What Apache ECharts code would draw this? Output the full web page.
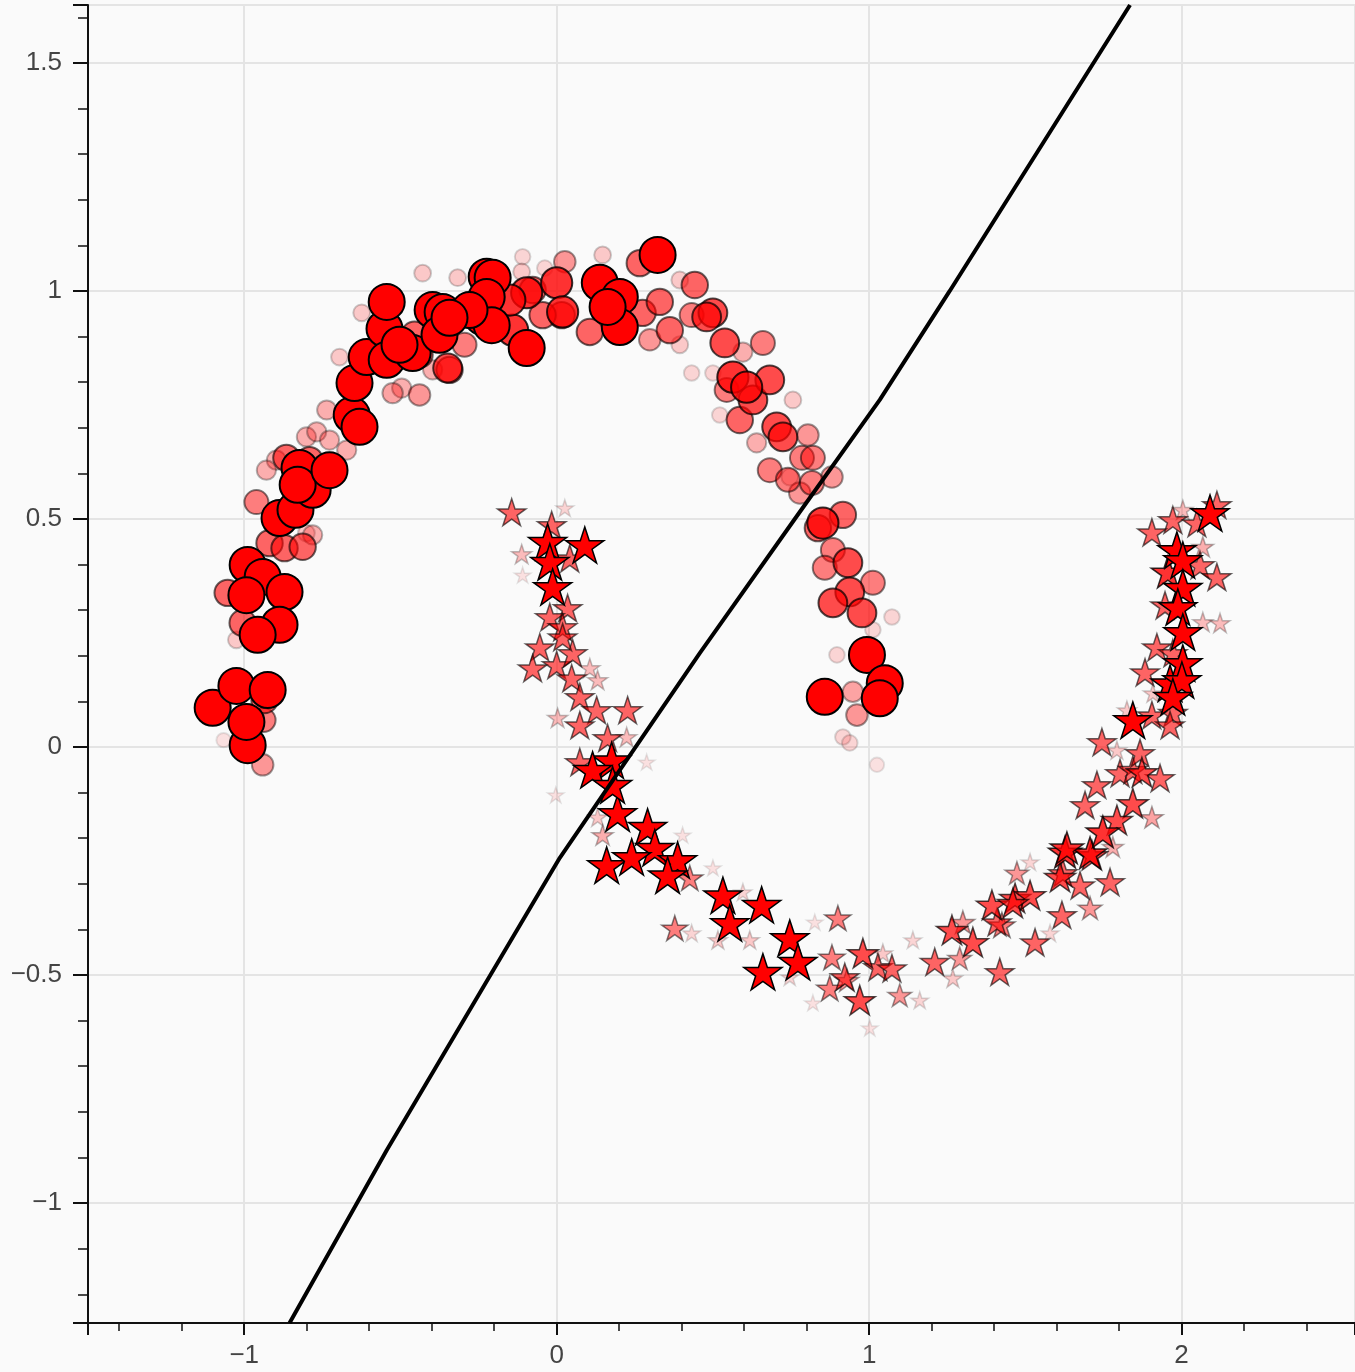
<!DOCTYPE html>
<html>
<head>
<meta charset="utf-8">
<script src="https://cdn.jsdelivr.net/npm/echarts@6/dist/echarts.min.js"></script>
<style>
html,body{margin:0;padding:0;background:#fafafa;}
#chart{width:1355px;height:1372px;}
</style>
</head>
<body>
<div id="chart"></div>
<script>
// ---- data (class 0: circles, upper moon) ----
const circleX = [-1.101,-1.025,-0.925,-0.935,-0.989,-0.993,-0.941,-1.066,-0.938,
 -0.989,-0.941,-0.871,-0.993,-0.887,-0.957,-1.005,-1.053,-1.025,-0.919,-0.871,-0.813,-0.781,
 -0.887,-0.836,-0.961,-0.823,-0.781,-0.829,-0.865,-0.727,-0.791,-0.897,-0.929,
 -0.801,-0.768,-0.727,-0.672,-0.736,-0.656,-0.631,-0.647,-0.608,-0.551,-0.544,-0.544,-0.461,
 -0.397,-0.365,-0.375,-0.349,-0.224,-0.237,-0.429,-0.624,-0.695,-0.525,-0.439,-0.397,-0.496,
 -0.317,-0.295,-0.801,-0.205,-0.224,-0.096,-0.208,-0.141,-0.096,0.000,0.019,0.138,0.202,0.202,
 0.163,0.323,0.275,0.500,0.480,0.538,0.564,0.608,0.628,0.682,0.704,0.724,0.266,0.442,0.330,
 0.362,0.106,0.016,-0.045,-0.077,0.026,0.544,0.586,0.660,0.432,0.682,0.298,-0.109,-0.112,
 0.147,0.394,0.394,0.432,0.500,0.522,0.640,0.596,0.756,0.746,-0.279,-0.343,-0.455,-0.439,
 -0.343,-0.503,-0.150,-0.038,0.804,0.785,0.820,0.740,0.817,0.881,0.778,0.852,0.836,0.916,
 0.884,0.932,0.858,1.012,0.938,0.884,0.977,1.073,0.993,1.050,1.034,0.858,0.948,0.961,0.897,
 1.012,0.916,1.025,0.938];
const circleY = [0.086,0.134,0.125,0.103,0.004,0.055,-0.039,0.015,0.059,
 0.399,0.373,0.340,0.333,0.268,0.246,0.272,0.338,0.235,0.447,0.436,0.439,0.465,
 0.502,0.520,0.537,0.612,0.564,0.575,0.634,0.607,0.629,0.629,0.607,
 0.680,0.691,0.673,0.651,0.739,0.728,0.702,0.798,0.855,0.917,0.976,0.849,0.864,
 0.958,0.954,0.904,0.831,1.031,0.943,1.039,0.952,0.855,0.776,0.772,0.827,0.787,
 1.029,0.882,0.469,1.029,0.987,0.875,0.925,0.914,0.996,1.018,0.954,1.018,0.987,0.921,
 0.965,1.079,0.952,0.952,0.943,0.886,0.811,0.789,0.761,0.805,0.702,0.680,1.061,1.013,0.976,
 0.914,0.910,0.947,0.947,1.002,1.064,0.783,0.717,0.886,0.947,0.607,0.893,1.075,1.042,
 1.079,1.024,0.882,0.820,0.820,0.728,0.667,0.866,0.761,0.592,0.958,0.941,0.904,0.860,
 0.827,0.882,0.980,1.050,0.684,0.634,0.634,0.586,0.579,0.592,0.557,0.491,0.480,0.509,
 0.432,0.404,0.393,0.360,0.340,0.316,0.294,0.285,0.202,0.140,0.107,0.110,0.121,0.070,0.202,
 0.257,0.022,-0.039,0.009];
const circleW = [1,1,1,0.6,1,1,0.4,0.1,0.5,
 1,1,1,1,1,1,0.6,0.6,0.2,0.6,0.6,0.6,0.3,
 1,1,0.5,1,1,1,0.6,1,0.6,0.3,0.3,
 0.3,0.3,0.3,0.3,0.3,1,1,1,1,1,1,1,1,
 1,1,1,0.7,1,1,0.2,0.2,0.2,0.35,0.4,0.3,0.3,
 0.2,0.5,0.2,1,1,1,1,0.8,0.8,0.8,0.8,1,1,1,
 1,1,0.6,0.7,0.7,0.7,0.8,0.8,0.7,0.7,0.7,0.7,0.6,0.6,0.6,
 0.6,0.6,0.6,0.6,0.6,0.4,0.5,0.6,0.5,0.5,0.5,0.4,0.15,0.2,
 0.2,0.2,0.2,0.15,0.15,0.15,0.3,0.3,0.2,0.2,1,1,0.6,0.6,
 0.6,1,0.8,0.15,0.4,0.5,0.5,0.5,0.5,0.4,0.4,0.8,0.6,0.6,
 0.5,0.7,0.5,0.5,0.7,0.7,0.7,0.15,1,1,1,1,0.35,0.4,0.15,
 0.15,0.15,0.1,0.15];

// ---- data (class 1: stars, lower moon) ----
const starX = [-0.144,-0.016,-0.029,0.090,-0.022,-0.112,0.042,-0.013,0.035,-0.022,0.019,-0.054,
 -0.077,0.000,0.051,0.019,0.048,0.106,0.131,0.074,0.128,0.227,0.074,0.003,0.163,0.224,0.176,
 0.115,0.074,-0.109,0.026,0.288,0.195,0.291,0.314,0.160,0.240,0.387,0.355,0.532,0.656,0.554,
 0.746,0.772,0.660,0.179,0.378,0.900,0.980,0.970,0.881,0.874,0.922,0.131,0.147,0.426,0.403,
 0.500,0.596,0.432,0.516,0.618,0.746,0.826,0.820,1.002,1.028,1.073,0.929,1.098,1.210,1.265,
 1.332,1.300,1.393,1.425,1.467,1.515,1.418,1.531,1.473,1.617,1.675,1.707,1.771,1.611,1.627,
 1.707,1.290,1.140,1.162,1.268,1.044,1.515,1.579,1.931,1.873,1.729,1.691,1.844,1.793,1.748,
 1.633,1.713,1.620,1.460,1.409,1.905,1.780,1.803,1.844,2.091,2.113,1.972,2.004,1.905,2.049,
 1.985,2.068,2.004,1.956,2.059,2.113,2.004,1.947,1.988,2.068,2.123,2.004,1.921,1.972,2.004,
 1.883,1.963,2.001,1.908,1.972,1.972,1.844,1.905,1.825,1.963,1.745,1.793,1.867,-0.003];
const starY = [0.515,0.487,0.450,0.443,0.406,0.423,0.414,0.351,0.305,0.285,0.263,0.219,
 0.173,0.180,0.206,0.241,0.151,0.173,0.147,0.110,0.081,0.081,0.048,0.064,0.020,0.022,-0.029,
 -0.050,-0.033,0.377,0.524,-0.033,-0.145,-0.175,-0.221,-0.259,-0.241,-0.248,-0.281,-0.325,-0.346,-0.386,
 -0.419,-0.471,-0.493,-0.083,-0.397,-0.375,-0.452,-0.555,-0.461,-0.529,-0.504,-0.154,-0.193,-0.287,-0.193,
 -0.265,-0.318,-0.408,-0.423,-0.423,-0.504,-0.384,-0.561,-0.616,-0.482,-0.485,-0.511,-0.544,-0.471,-0.401,
 -0.428,-0.384,-0.346,-0.390,-0.331,-0.325,-0.493,-0.428,-0.276,-0.368,-0.303,-0.353,-0.296,-0.285,-0.230,
 -0.232,-0.463,-0.423,-0.555,-0.507,-0.452,-0.252,-0.408,-0.068,-0.055,-0.083,-0.127,-0.123,-0.160,-0.186,
 -0.221,-0.237,-0.276,-0.342,-0.384,-0.154,-0.219,-0.057,-0.050,0.513,0.531,0.498,0.520,0.471,0.491,
 0.432,0.439,0.410,0.384,0.399,0.373,0.349,0.311,0.307,0.274,0.272,0.252,0.219,0.206,0.184,
 0.164,0.140,0.147,0.118,0.110,0.075,0.059,0.070,0.081,0.048,0.011,-0.007,-0.013,-0.105];
const starW = [0.6,0.6,1,1,1,0.25,0.6,1,0.6,0.6,0.6,0.6,
 0.6,0.6,0.6,0.6,0.6,0.25,0.25,0.6,0.6,0.6,0.6,0.25,0.6,0.25,1,
 1,0.6,0.1,0.15,0.1,1,1,1,1,1,1,1,1,1,1,
 1,1,1,1,0.5,0.5,0.7,0.7,0.5,0.5,0.6,0.2,0.3,0.5,0.1,
 0.1,0.15,0.15,0.2,0.2,0.15,0.1,0.1,0.1,0.6,0.6,0.4,0.4,0.6,0.7,
 0.7,0.4,0.7,0.5,0.7,0.7,0.6,0.6,0.4,0.6,0.6,0.4,0.6,0.7,0.8,
 0.8,0.4,0.15,0.15,0.2,0.2,0.15,0.15,0.6,0.7,0.6,0.6,0.7,0.7,0.8,
 0.8,0.7,0.6,0.7,0.6,0.35,0.3,0.6,0.6,1,0.6,0.6,0.25,0.6,0.6,
 1,0.3,1,0.8,0.6,0.6,1,0.6,1,0.25,0.25,1,0.6,0.6,1,
 0.6,1,1,0.2,1,0.6,1,0.6,0.2,0.6,0.6,0.2,0.6,0.1];

// ---- decision boundary ----
const boundaryX = [-0.855,-0.544,0.010,0.458,0.762,1.034,1.258,1.835];
const boundaryY = [-1.263,-0.884,-0.243,0.206,0.500,0.761,1.000,1.627];

// ---- axis ranges ----
const xRange = [-1.5, 2.555];
const yRange = [-1.263, 1.627];

function starPath() {
  let p = '';
  for (let i = 0; i < 10; i++) {
    const r = i % 2 === 0 ? 50 : 19.1;
    const a = -Math.PI / 2 + i * Math.PI / 5;
    p += (i ? 'L' : 'M') + (50 + r * Math.cos(a)).toFixed(2) + ' ' + (50 + r * Math.sin(a)).toFixed(2) + ' ';
  }
  return 'path://' + p + 'Z';
}

function buildPoints(xs, ys, ws) {
  const pts = xs.map((x, i) => ({ value: [x, ys[i], ws[i]], itemStyle: { opacity: Math.max(0.08, ws[i]) } }));
  pts.sort((a, b) => a.value[2] - b.value[2]);
  return pts;
}

const fmt = v => {
  const s = String(Math.round(v * 1000) / 1000);
  return v < 0 ? '\u2212' + s.slice(1) : s;
};

const labelStyle = { fontSize: 26, color: '#444', fontFamily: 'Liberation Sans, Arial, sans-serif' };

const chart = echarts.init(document.getElementById('chart'), null, { renderer: 'canvas' });
chart.setOption({
  animation: false,
  backgroundColor: '#fafafa',
  grid: { left: 88, right: 0, top: 5, bottom: 49, containLabel: false },
  xAxis: {
    type: 'value', min: xRange[0], max: xRange[1],
    axisLine: { show: true, onZero: false, lineStyle: { color: '#111', width: 2 } },
    axisTick: { show: true, length: 12, lineStyle: { color: '#111', width: 2 } },
    minorTick: { show: true, splitNumber: 5, length: 8, lineStyle: { color: '#111', width: 1.5 } },
    splitLine: { show: true, lineStyle: { color: '#e4e4e4', width: 2 } },
    axisLabel: Object.assign({ margin: 20, showMinLabel: false, showMaxLabel: false, formatter: fmt }, labelStyle)
  },
  yAxis: {
    type: 'value', min: yRange[0], max: yRange[1],
    axisLine: { show: true, onZero: false, lineStyle: { color: '#111', width: 2 } },
    axisTick: { show: true, length: 15, lineStyle: { color: '#111', width: 2 } },
    minorTick: { show: true, splitNumber: 5, length: 10, lineStyle: { color: '#111', width: 1.5 } },
    splitLine: { show: true, lineStyle: { color: '#e4e4e4', width: 2 } },
    axisLabel: Object.assign({ margin: 26, showMinLabel: false, showMaxLabel: false, formatter: fmt }, labelStyle)
  },
  series: [
    {
      type: 'scatter', name: 'class0', symbol: 'circle', clip: true,
      symbolSize: v => 12 + 24 * v[2],
      itemStyle: { color: '#ff0000', borderColor: '#000', borderWidth: 2 },
      data: buildPoints(circleX, circleY, circleW), z: 2
    },
    {
      type: 'scatter', name: 'class1', symbol: starPath(), symbolKeepAspect: true, clip: true,
      symbolSize: v => 14 + 24 * v[2],
      itemStyle: { color: '#ff0000', borderColor: '#000', borderWidth: 1.5 },
      data: buildPoints(starX, starY, starW), z: 2
    },
    {
      type: 'line', name: 'boundary', showSymbol: false, symbol: 'none', clip: true,
      data: boundaryX.map((x, i) => [x, boundaryY[i]]),
      lineStyle: { color: '#000', width: 4 }, z: 3
    }
  ]
});
</script>
</body>
</html>
